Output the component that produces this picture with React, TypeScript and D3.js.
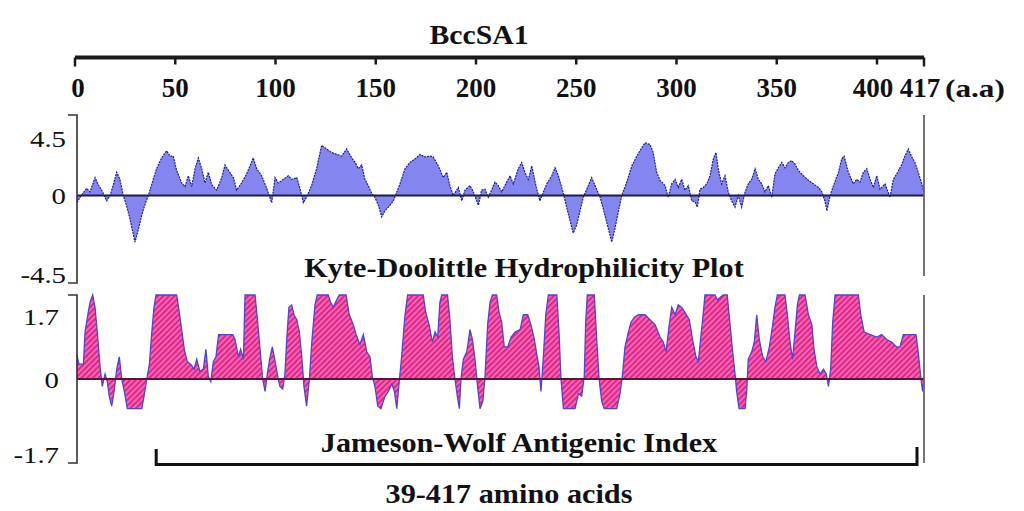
import React from "react";
import * as d3 from "d3";

// Residue axis ticks
const residueTicks = [0, 50, 100, 150, 200, 250, 300, 350, 400];
const residueEnd = 417;

// Kyte-Doolittle hydrophilicity profile (residue position, score)
const hydroPos = [
  1, 2.5, 5.8, 7.5, 10, 11.6, 13.3, 15.8, 17.5, 19.1, 20.8, 22.4, 24.1, 25.8, 27.4, 29.1, 29.9, 31.6, 33.3, 34.9,
  36.6, 38.2, 40.7, 43.2, 45.7, 47.4, 49, 50.7, 53.2, 54.9, 56.5, 58.2, 59.9, 61.5, 63.2, 64.8, 66.5, 68.2, 70.7, 73.2,
  74.8, 76.5, 79, 80.6, 83.1, 85.6, 88.9, 90.6, 93.1, 95.6, 98.1, 99.8, 101.4, 103.9, 106.4, 108.1, 110.6, 112.2, 113.9, 115.5,
  118.1, 120.5, 123, 125.5, 128, 130.5, 133, 135.5, 138, 139.7, 141.3, 143, 144.6, 146.3, 148, 149.6, 151.3, 153, 154.6, 156.3,
  158.8, 160.5, 162.1, 164.6, 167.1, 169.6, 172.1, 174.6, 177.1, 178.7, 181.2, 183.7, 185.4, 187, 188.7, 191.2, 192.9, 194.5, 197, 198.7,
  201.2, 202.8, 204.5, 206.1, 207.8, 209.5, 211.1, 212.8, 215.3, 217, 218.6, 221.1, 222.8, 224.4, 226.1, 227.8, 230.3, 231.9, 233.6, 235.3,
  237.8, 239.4, 241.1, 243.6, 245.2, 246.9, 248.5, 250.2, 251.9, 253.5, 256, 257.7, 259.4, 261.9, 263.5, 265.2, 266.8, 267.7, 269.3, 271,
  272.7, 275.2, 277.7, 280.2, 282.3, 284.3, 286.8, 288.4, 290.1, 291.8, 294.3, 295.9, 297.6, 299.3, 300.9, 302.6, 304.2, 305.9, 307.6, 309.2,
  310.4, 311.7, 313.4, 315.1, 316.7, 318.4, 319.7, 320.8, 322.5, 324.2, 325.8, 327.5, 329.2, 330.8, 332.5, 334.2, 335.8, 337.5, 339.2, 340.8,
  342.5, 344.1, 345.8, 347.5, 349.1, 350.8, 352.5, 354.1, 355.8, 357.5, 359.1, 360.8, 363.3, 365.8, 368.3, 370.8, 372.5, 374.1, 375, 376.6,
  378.3, 380.8, 382.4, 383.6, 385.7, 388.2, 389.9, 391.5, 393.2, 394.9, 396.6, 398.2, 399.9, 401.1, 402.9, 404.7, 405.9, 407.1, 409, 410.1,
  411.3, 412.6, 413.7, 414.9, 416.2, 417,
];
const hydroVal = [
  -0.4, -0.1, 0.4, 0.2, 1.0, 0.6, 0.3, -0.3, 0, 0.6, 1.3, 0.9, 0, -0.6, -1.3, -2.2, -2.6, -1.9, -1.1, -0.5,
  0, 0.6, 1.5, 2.1, 2.5, 2.2, 2.2, 1.4, 0.7, 0.5, 1.1, 0.5, 1.5, 2.1, 1.5, 0.7, 1.3, 0.6, 0.3, 1.0,
  1.7, 1.4, 1.0, 0.3, 0.7, 1.2, 2.1, 1.5, 1.1, 0.4, -0.4, 1.0, 0.7, 0.9, 1.1, 0.9, 1.0, 0.4, -0.4, -0.1,
  0.6, 1.5, 2.8, 2.6, 2.4, 2.3, 2.2, 2.6, 2.1, 1.85, 1.5, 1.7, 0.9, 0.55, 0.1, -0.1, -0.55, -1.2, -0.85, -0.65,
  -0.3, 0.2, 0.65, 1.5, 1.85, 2.05, 2.3, 2.15, 2.2, 2.15, 1.65, 1.0, 1.3, 0.55, 0, 0.45, -0.3, 0.3, 0.55, 0.2,
  -0.55, 0.3, 0.35, -0.1, 0.3, 0.75, 0.55, 0.2, 0.75, 1.1, 0.65, 1.5, 1.85, 1.3, 0.9, 1.65, 0.35, -0.3, 0.2, 0.65,
  1.1, 1.55, 1.1, 0.1, -0.65, -1.4, -2.1, -1.65, -0.85, -0.1, 0.55, 1.0, 0.55, -0.1, -0.75, -1.5, -2.2, -2.6, -1.85, -0.9,
  0, 0.75, 1.65, 2.2, 2.6, 2.95, 2.85, 2.4, 1.3, 0.85, 0.55, -0.1, 0.65, 0.9, 0.45, 0.9, 0.3, 0.55, -0.3, -0.35,
  -0.65, 0.35, 0.45, 0.65, 1.1, 2.05, 2.4, 1.5, 0.65, 1.1, 0.2, -0.3, -0.65, 0, -0.65, 0.2, 0.65, 0.9, 1.5, 0.9,
  0.65, 0.2, 0.55, -0.1, 1.2, 1.55, 1.85, 1.55, 1.85, 1.95, 1.75, 1.4, 1.1, 0.85, 0.65, 0.45, 0.2, -0.35, -0.85, 0,
  0.55, 1.3, 2.05, 2.2, 1.3, 0.65, 0.9, 0.75, 1.3, 1.5, 0.9, 0.45, 1.1, 0.35, 0.65, -0.1, 0.9, 1.2, 1.75, 2.2,
  2.6, 2.15, 1.85, 1.3, 0.65, 0.2,
];

// Jameson-Wolf antigenic index (residue position, index)
const antigenPos = [
  0.8, 2, 4.2, 5, 6.6, 7.5, 8.8, 10, 11.1, 12.5, 13.6, 15, 16.1, 17.1, 18.3, 19.5, 20.8, 22.1, 23.3, 24.6,
  26.1, 28.3, 30.8, 33.3, 34.4, 35.8, 37.1, 38.2, 39.4, 40.4, 43.2, 47.4, 50.7, 52, 53.2, 54.5, 56, 57.7, 59.4, 60.7,
  62.3, 64, 65.3, 66.5, 67.7, 69, 70.3, 71.6, 73.2, 75.7, 78.7, 79.8, 81.5, 82.6, 84, 84.8, 89.8, 91.1, 92.3, 93.6,
  94.8, 95.9, 97.3, 98.4, 99.6, 100.9, 102.2, 103.6, 104.7, 105.6, 106.7, 108.1, 109.2, 110.6, 111.9, 113.1, 114.2, 115.5, 116.9, 118.2,
  119.7, 120.8, 126.3, 127.5, 128.8, 130.5, 131.8, 135.2, 136.8, 138.8, 140.2, 142.1, 143.8, 145.5, 147.1, 148.3, 149.6, 151, 152.6, 154.6,
  156.3, 158, 159.3, 160.5, 161.6, 162.9, 164.6, 165.9, 173.7, 174.9, 176.6, 178.2, 179.6, 180.9, 182, 182.9, 185.8, 187, 188.2, 189.5,
  190.7, 191.7, 192.5, 193.7, 195.4, 197, 198.2, 199.5, 200.8, 202, 203.4, 204.5, 205.8, 207, 208.2, 210.3, 211.5, 212.8, 214.1, 215.8,
  217.5, 219.5, 222, 223.6, 225.8, 227.4, 229.1, 230.3, 231.4, 232.4, 233.6, 234.8, 236.1, 240.3, 241.4, 242.4, 243.6, 249.4, 251.1, 252.7,
  254, 254.7, 255.5, 259, 260.2, 261.4, 262.7, 264, 270.2, 271.8, 273, 274.3, 276, 277.3, 279, 281, 284.3, 286.8, 289.3, 291.8,
  293.4, 294.8, 296.4, 297.6, 299.3, 300.9, 302.6, 304.2, 306.4, 308, 309.7, 310.9, 312, 313.4, 314.2, 319.2, 320.4, 321.7, 323.3, 325.3,
  326.7, 328, 329.2, 330, 331.2, 334.2, 335, 335.8, 337.5, 338.8, 340, 341.3, 343, 344.6, 346.3, 348, 349.1, 350.3, 354.1, 355.3,
  356.6, 357.9, 359.1, 360.3, 361.3, 364.1, 365.8, 367.5, 368.6, 370, 371.6, 373.3, 374.7, 375.8, 376.9, 377.9, 379.1, 390.7, 391.9, 393.6,
  396.6, 399.9, 401.7, 403.5, 405.3, 407.1, 408.3, 409.5, 411.9, 414.1, 414.9, 415.9, 416.5, 417,
];
const antigenVal = [
  0.5, 0.3, 0.3, 0.95, 1.35, 1.55, 1.7, 1.45, 0.95, 0.25, -0.15, 0.1, -0.05, -0.35, -0.55, -0.25, 0.2, 0.45, 0, -0.25,
  -0.6, -0.6, -0.6, -0.6, -0.35, 0, 0.3, 0.9, 1.45, 1.7, 1.7, 1.7, 1.7, 1.35, 1.0, 0.6, 0.35, 0.3, 0.2, 0.4,
  0.15, 0.2, 0.6, 0.05, -0.05, 0.35, 0.45, 0.9, 0.9, 0.9, 0.9, 0.8, 0.45, 0.6, 0.4, 1.7, 1.7, 1.15, 0.6, 0,
  -0.25, 0.1, 0.45, 0.65, 0.4, 0.1, -0.15, -0.2, 0.1, 0.8, 1.45, 1.5, 1.3, 1.2, 0.95, 0.45, -0.15, -0.55, 0, 0.8,
  1.5, 1.7, 1.7, 1.55, 1.45, 1.6, 1.7, 1.7, 1.3, 1.1, 0.9, 0.7, 0.9, 0.55, 0.45, 0.05, -0.15, -0.55, -0.6, -0.35,
  -0.25, -0.1, -0.25, -0.6, -0.1, 0.45, 1.3, 1.7, 1.7, 1.35, 1.1, 0.75, 0.95, 0.85, 1.55, 1.7, 1.7, 1.2, 0.45, 0,
  -0.35, -0.6, 0, 0.4, 0.55, 1.0, 0.8, 0.4, -0.15, -0.6, -0.45, 0.05, 1.1, 1.55, 1.7, 1.7, 1.35, 1.15, 0.65, 0.65,
  0.85, 0.95, 1.0, 1.3, 1.3, 1.1, 0.8, 0.5, 0.25, -0.25, 0.45, 1.3, 1.7, 1.7, 0.95, 0, -0.6, -0.6, -0.3, -0.35,
  0.05, 1.15, 1.7, 1.7, 0.8, 0, -0.45, -0.6, -0.6, -0.3, 0.05, 0.65, 0.95, 1.15, 1.25, 1.3, 1.3, 1.2, 1.1, 0.85,
  0.75, 0.55, 1.1, 1.45, 1.3, 1.5, 1.45, 1.35, 1.2, 0.8, 0.45, 0.35, 0.8, 1.35, 1.7, 1.7, 1.6, 1.65, 1.7, 1.7,
  1.1, 0.55, 0.1, -0.25, -0.6, -0.6, -0.25, 0.4, 0.55, 0.75, 1.3, 0.8, 0.45, 0.35, 0.65, 1.1, 1.45, 1.7, 1.7, 1.3,
  0.75, 0.4, 0.95, 1.5, 1.7, 1.7, 1.3, 1.1, 0.6, 0.25, 0.1, 0.2, 0.1, -0.15, 0.2, 1.15, 1.7, 1.7, 1.3, 0.95,
  0.9, 0.85, 0.9, 0.8, 0.75, 0.65, 0.65, 0.9, 0.9, 0.9, 0.55, 0, -0.25, 0,
];

// Panel axis limits
const hydroLimits = [-4.5, 4.5];
const antigenLimits = [-1.7, 1.7];
const hydroLabels = ["4.5", "0", "-4.5"];
const antigenLabels = ["1.7", "0", "-1.7"];
const regionStart = 39;

const SERIF = "'Liberation Serif', 'Times New Roman', serif";

function StretchText({ x, y, size, sx = 1, anchor = "middle", weight = "bold", children }: any) {
  return (
    <text
      transform={`translate(${x},${y}) scale(${sx},1)`}
      textAnchor={anchor}
      fontFamily={SERIF}
      fontWeight={weight}
      fontSize={size}
      fill="#111"
    >
      {children}
    </text>
  );
}

export default function App() {
  const W = 1024;
  const H = 511;

  // Residue scale: the last tick stretch (400-417) is drawn wider, as on the ruler
  const x = d3.scaleLinear().domain([0, 400, residueEnd]).range([75, 877, 924]);
  const yH = d3.scaleLinear().domain(hydroLimits).range([276, 115]);
  const yA = d3.scaleLinear().domain(antigenLimits).range([463, 295]);

  const hydroData = hydroPos.map((p, i) => [p, hydroVal[i]] as [number, number]);
  const antigenData = antigenPos.map((p, i) => [p, antigenVal[i]] as [number, number]);

  const hydroArea = d3
    .area<[number, number]>()
    .x((d) => x(d[0]))
    .y0(yH(0))
    .y1((d) => yH(d[1]));
  const hydroLine = d3
    .line<[number, number]>()
    .x((d) => x(d[0]))
    .y((d) => yH(d[1]));
  const antigenArea = d3
    .area<[number, number]>()
    .x((d) => x(d[0]))
    .y0(yA(0))
    .y1((d) => yA(d[1]));
  const antigenLine = d3
    .line<[number, number]>()
    .x((d) => x(d[0]))
    .y((d) => yA(d[1]));

  const axisY = 57.5;
  const xLeft = x(0);
  const xRight = x(residueEnd);
  const bracketX = 77;

  const tickLabelShift = (t: number) => (t === 0 ? 3 : t === 400 ? -4 : t === residueEnd ? -4 : 0);

  return (
    <svg
      width={W}
      height={H}
      viewBox={`0 0 ${W} ${H}`}
      style={{ position: "absolute", left: 0, top: 0, background: "#fff" }}
    >
      <defs>
        <pattern id="hatch" width={4} height={4} patternUnits="userSpaceOnUse" patternTransform="rotate(45)">
          <rect width={4} height={4} fill="#ff62b0" />
          <line x1={0.8} y1={0} x2={0.8} y2={4} stroke="#d21c80" strokeWidth={1.6} />
        </pattern>
      </defs>

      {/* Title */}
      <StretchText x={479} y={44} size={27} sx={1.1}>BccSA1</StretchText>

      {/* Residue ruler */}
      <line x1={xLeft} x2={xRight} y1={axisY} y2={axisY} stroke="#1a1a1a" strokeWidth={4} />
      {[...residueTicks, residueEnd].map((t) => (
        <line
          key={`t${t}`}
          x1={x(t)}
          x2={x(t)}
          y1={axisY}
          y2={t === 0 || t === residueEnd ? axisY + 9 : axisY + 7}
          stroke="#1a1a1a"
          strokeWidth={2.5}
        />
      ))}
      {[...residueTicks, residueEnd].map((t) => (
        <text
          key={`l${t}`}
          x={x(t) + tickLabelShift(t)}
          y={97}
          textAnchor="middle"
          fontFamily={SERIF}
          fontWeight="bold"
          fontSize={27}
          fill="#111"
        >
          {t}
        </text>
      ))}
      <StretchText x={945} y={97} size={25} sx={1.25} anchor="start">(a.a)</StretchText>

      {/* Hydrophilicity panel */}
      <path d={hydroArea(hydroData) || ""} fill="#8585f0" />
      <path
        d={hydroLine(hydroData) || ""}
        fill="none"
        stroke="#1d1d8c"
        strokeWidth={1.2}
        strokeDasharray="2 1"
      />
      <line x1={bracketX} x2={xRight} y1={yH(0)} y2={yH(0)} stroke="#1c1c4a" strokeWidth={2} />
      <path
        d={`M${bracketX - 9},${yH(4.5)}H${bracketX}V${yH(-4.5) + 7}H${bracketX - 9}`}
        fill="none"
        stroke="#333"
        strokeWidth={1.6}
      />
      <line x1={xRight} x2={xRight} y1={yH(4.5)} y2={yH(-4.5)} stroke="#666" strokeWidth={1.8} />
      {hydroLabels.map((l, i) => (
        <StretchText
          key={l}
          x={66}
          y={[yH(4.5) + 32, yH(0) + 8, yH(-4.5) + 7][i]}
          size={24}
          sx={1.2}
          anchor="end"
          weight="normal"
        >
          {l}
        </StretchText>
      ))}
      <StretchText x={524} y={277} size={27} sx={1.12}>Kyte-Doolittle Hydrophilicity Plot</StretchText>

      {/* Antigenic index panel */}
      <path d={antigenArea(antigenData) || ""} fill="url(#hatch)" />
      <path d={antigenLine(antigenData) || ""} fill="none" stroke="#4b44dc" strokeWidth={1.3} />
      <line x1={bracketX} x2={xRight} y1={yA(0)} y2={yA(0)} stroke="#5a1434" strokeWidth={2} />
      <path
        d={`M${bracketX - 9},${yA(1.7)}H${bracketX}V${yA(-1.7)}H${bracketX - 9}`}
        fill="none"
        stroke="#333"
        strokeWidth={1.6}
      />
      <line x1={xRight} x2={xRight} y1={yA(1.7)} y2={yA(-1.7)} stroke="#666" strokeWidth={1.8} />
      {antigenLabels.map((l, i) => (
        <StretchText
          key={l}
          x={59}
          y={[yA(1.7) + 30, yA(0) + 9, yA(-1.7) - 0][i]}
          size={24}
          sx={1.2}
          anchor="end"
          weight="normal"
        >
          {l}
        </StretchText>
      ))}
      <StretchText x={519} y={452} size={27} sx={1.12}>Jameson-Wolf Antigenic Index</StretchText>

      {/* Region bracket */}
      <path
        d={`M${x(regionStart) + 3},${yA(-1.7) - 14}V${yA(-1.7) + 1.5}H${xRight - 7}V${yA(-1.7) - 16}`}
        fill="none"
        stroke="#111"
        strokeWidth={3}
      />
      <StretchText x={509} y={503} size={27} sx={1.12}>39-417 amino acids</StretchText>
    </svg>
  );
}
